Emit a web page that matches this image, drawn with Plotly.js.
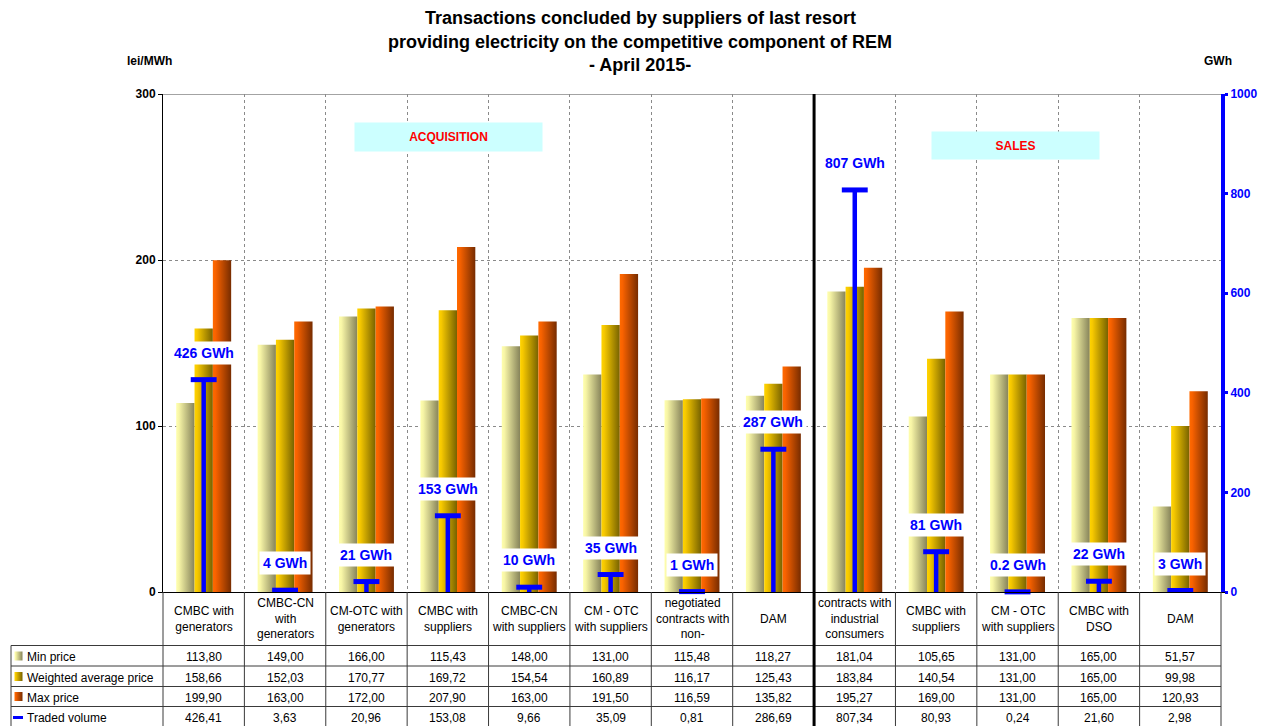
<!DOCTYPE html>
<html>
<head>
<meta charset="utf-8">
<script src="https://cdn.plot.ly/plotly-3.0.1.min.js"></script>
<style>
  html, body { margin: 0; padding: 0; background: #fff; }
  #chart { width: 1264px; height: 726px; }
</style>
</head>
<body>
<div id="chart"></div>
<script>
// Markets (column labels of the data table, acquisition then sales)
const categories = [
  'CMBC with<br>generators',
  'CMBC-CN<br>with<br>generators',
  'CM-OTC with<br>generators',
  'CMBC with<br>suppliers',
  'CMBC-CN<br>with suppliers',
  'CM - OTC<br>with suppliers',
  'negotiated<br>contracts with<br>non-',
  'DAM',
  'contracts with<br>industrial<br>consumers',
  'CMBC with<br>suppliers',
  'CM - OTC<br>with suppliers',
  'CMBC with<br>DSO',
  'DAM'
];

// Prices, lei/MWh
const minPrice = [113.80, 149.00, 166.00, 115.43, 148.00, 131.00, 115.48, 118.27, 181.04, 105.65, 131.00, 165.00, 51.57];
const avgPrice = [158.66, 152.03, 170.77, 169.72, 154.54, 160.89, 116.17, 125.43, 183.84, 140.54, 131.00, 165.00, 99.98];
const maxPrice = [199.90, 163.00, 172.00, 207.90, 163.00, 191.50, 116.59, 135.82, 195.27, 169.00, 131.00, 165.00, 120.93];

// Traded volume, GWh
const volume = [426.41, 3.63, 20.96, 153.08, 9.66, 35.09, 0.81, 286.69, 807.34, 80.93, 0.24, 21.60, 2.98];

const seriesNames = ['Min price', 'Weighted average price', 'Max price', 'Traded volume'];
const titleLines = [
  'Transactions concluded by suppliers of last resort',
  'providing electricity on the competitive component of REM',
  '- April 2015-'
];
const leftTicks = [0, 100, 200, 300];
const rightTicks = [0, 200, 400, 600, 800, 1000];

// ---- page geometry (pixels) ----
const W = 1264, H = 726;
const L = 163, R = 1221, T = 94, B = 592;
const PW = R - L, PH = B - T;
const px = v => (v - L) / PW;          // pixel x -> paper x
const py = v => (B - v) / PH;          // pixel y -> paper y
const FONT = 'Liberation Sans, Arial, Helvetica, sans-serif';
const BLUE = '#0000FF';

const pos = categories.map((_, i) => i);
const fmt = v => v.toFixed(2).replace('.', ',');
const volText = v => (Math.round(v) >= 1 ? String(Math.round(v)) : v.toFixed(1)) + ' GWh';

// gradient fills applied to bars and legend keys after drawing
const gradients = [
  { id: 'gradMin', stops: [[0, '#FFFFAE'], [0.15, '#F7F5A6'], [1, '#86835A']], flat: '#D2CF86' },
  { id: 'gradAvg', stops: [[0, '#FFD400'], [0.15, '#F6C800'], [1, '#776200']], flat: '#C8A000' },
  { id: 'gradMax', stops: [[0, '#FF6A00'], [0.15, '#F86200'], [1, '#772C00']], flat: '#C04A00' }
];

const barTrace = (k, y) => ({
  type: 'bar', name: seriesNames[k], x: pos, y: y,
  marker: { color: gradients[k].flat, line: { width: 0 } },
  hoverinfo: 'skip'
});

const traces = [
  barTrace(0, minPrice),
  barTrace(1, avgPrice),
  barTrace(2, maxPrice),
  {
    type: 'scatter', mode: 'markers', name: seriesNames[3],
    x: pos, y: volume, yaxis: 'y2', cliponaxis: false,
    marker: { symbol: 'line-ew', size: 18.5, color: BLUE, line: { width: 5, color: BLUE } },
    error_y: {
      type: 'data', symmetric: false,
      array: volume.map(() => 0), arrayminus: volume,
      thickness: 4.5, width: 0, color: BLUE
    },
    hoverinfo: 'skip'
  }
];

// ---- shapes ----
const shapes = [];
const lineCol = '#3a3a3a';
const hLine = (y, x0, x1, color, width) => shapes.push({
  type: 'line', xref: 'paper', yref: 'paper',
  x0: px(x0), x1: px(x1), y0: py(y), y1: py(y),
  line: { color: color || lineCol, width: width || 1 }, layer: 'above'
});
const vLine = (x, y0, y1, color, width) => shapes.push({
  type: 'line', xref: 'paper', yref: 'paper',
  x0: px(x), x1: px(x), y0: py(y0), y1: py(y1),
  line: { color: color || lineCol, width: width || 1 }, layer: 'above'
});

// frame line along the 300 level
shapes.push({
  type: 'line', xref: 'paper', yref: 'y', x0: 0, x1: 1, y0: 300, y1: 300,
  line: { color: '#858585', width: 1.5 }, layer: 'below'
});

// data table grid
const rowLines = [645.5, 666, 686.5, 706.5];
rowLines.forEach(y => hLine(y, 11, R));
for (let i = 0; i <= categories.length; i++) {
  vLine(L + i * PW / categories.length, B, H);
}
vLine(11, 645.5, H);

// acquisition / sales divider
shapes.push({
  type: 'line', xref: 'x', yref: 'paper', x0: 7.5, x1: 7.5, y0: py(H), y1: 1,
  line: { color: '#000', width: 3 }, layer: 'above'
});

// legend keys inside the table
const rowCenters = [656, 676.5, 696.5, 716.5];
const keyIdx = [];
for (let k = 0; k < 3; k++) {
  keyIdx.push(shapes.length);
  shapes.push({
    type: 'rect', xref: 'paper', yref: 'paper',
    x0: px(14.5), x1: px(22.5), y0: py(rowCenters[k] + 4.5), y1: py(rowCenters[k] - 4.5),
    fillcolor: gradients[k].flat, line: { width: 0 }, layer: 'above'
  });
}
hLine(rowCenters[3] + 1, 13, 23, BLUE, 3);

// ---- annotations ----
const annotations = [];
const txt = (o) => annotations.push(Object.assign({ showarrow: false, xanchor: 'center', yanchor: 'middle' }, o));

// title
titleLines.forEach((t, k) => txt({
  xref: 'paper', yref: 'paper', x: px(640), y: py(18 + k * 23.5), text: t,
  font: { family: FONT, size: 18, color: '#000', weight: 'bold' }
}));

// axis unit labels
txt({ xref: 'paper', yref: 'paper', x: px(149.5), y: py(61), text: 'lei/MWh',
      font: { family: FONT, size: 12, color: '#000', weight: 'bold' } });
txt({ xref: 'paper', yref: 'paper', x: px(1217.5), y: py(61), text: 'GWh',
      font: { family: FONT, size: 12, color: '#000', weight: 'bold' } });

// section labels
txt({ xref: 'paper', yref: 'paper', x: px(448.5), y: py(137), text: 'ACQUISITION',
      width: 187, height: 28, borderpad: 0, bgcolor: '#CCFFFF',
      font: { family: FONT, size: 12, color: '#FF0000', weight: 'bold' } });
txt({ xref: 'paper', yref: 'paper', x: px(1015.5), y: py(145), text: 'SALES',
      width: 167, height: 27, borderpad: 0, bgcolor: '#CCFFFF',
      font: { family: FONT, size: 12, color: '#FF0000', weight: 'bold' } });

// traded volume labels
volume.forEach((v, i) => txt({
  xref: 'x', yref: 'y2', x: pos[i], y: v, yshift: 27,
  text: volText(v), bgcolor: '#FFFFFF', borderpad: 3,
  font: { family: FONT, size: 14, color: BLUE, weight: 'bold' }
}));

// table: column headers
categories.forEach((c, i) => txt({
  xref: 'x', yref: 'paper', x: pos[i], y: py(618.5), text: c,
  font: { family: FONT, size: 12, color: '#000' }
}));

// table: row headers and values
const rows = [minPrice, avgPrice, maxPrice, volume];
rows.forEach((vals, r) => {
  txt({ xref: 'paper', yref: 'paper', x: px(25), xanchor: 'left', y: py(rowCenters[r] + 1),
        text: seriesNames[r], font: { family: FONT, size: 12, color: '#000' } });
  vals.forEach((v, i) => txt({
    xref: 'x', yref: 'paper', x: pos[i], y: py(rowCenters[r] + 1), text: fmt(v),
    font: { family: FONT, size: 12, color: '#000' }
  }));
});

const layout = {
  width: W, height: H,
  margin: { l: L, r: W - R, t: T, b: H - B, pad: 0 },
  paper_bgcolor: '#FFFFFF', plot_bgcolor: '#FFFFFF',
  showlegend: false,
  hovermode: false,
  barmode: 'group', bargap: 0.325, bargroupgap: 0,
  font: { family: FONT, color: '#000' },
  xaxis: {
    range: [-0.5, categories.length - 0.5],
    tickvals: categories.map((_, i) => i - 0.5).concat([categories.length - 0.5]),
    showticklabels: false, ticks: '',
    showgrid: true, gridcolor: '#8a8a8a', griddash: 'dot', gridwidth: 1,
    showline: true, linecolor: '#000', linewidth: 1, zeroline: false
  },
  yaxis: {
    range: [0, 300], tickvals: leftTicks,
    showgrid: true, gridcolor: '#8a8a8a', griddash: 'dot', gridwidth: 1,
    showline: true, linecolor: '#000', linewidth: 1, zeroline: false,
    ticks: 'outside', ticklen: 4, tickcolor: '#000', tickwidth: 1,
    tickfont: { family: FONT, size: 12, color: '#000', weight: 'bold' }
  },
  yaxis2: {
    overlaying: 'y', side: 'right',
    range: [0, 1000], tickvals: rightTicks,
    showgrid: false, zeroline: false,
    showline: true, linecolor: BLUE, linewidth: 4,
    ticks: 'outside', ticklen: 3, tickwidth: 3, tickcolor: BLUE,
    tickfont: { family: FONT, size: 12, color: BLUE, weight: 'bold' }
  },
  shapes: shapes,
  annotations: annotations
};

Plotly.newPlot('chart', traces, layout, { displayModeBar: false, staticPlot: true }).then(gd => {
  const NS = 'http://www.w3.org/2000/svg';
  const svg = gd.querySelector('.main-svg');
  let defs = svg.querySelector('defs');
  if (!defs) { defs = document.createElementNS(NS, 'defs'); svg.insertBefore(defs, svg.firstChild); }
  gradients.forEach(g => {
    const lg = document.createElementNS(NS, 'linearGradient');
    lg.setAttribute('id', g.id);
    lg.setAttribute('x1', '0'); lg.setAttribute('y1', '0');
    lg.setAttribute('x2', '1'); lg.setAttribute('y2', '0');
    g.stops.forEach(([o, c]) => {
      const s = document.createElementNS(NS, 'stop');
      s.setAttribute('offset', o);
      s.setAttribute('stop-color', c);
      lg.appendChild(s);
    });
    defs.appendChild(lg);
  });
  gd.querySelectorAll('.barlayer .trace.bars').forEach((tr, k) => {
    if (!gradients[k]) return;
    tr.querySelectorAll('path').forEach(p => { p.style.fill = 'url(#' + gradients[k].id + ')'; });
  });
  keyIdx.forEach((idx, k) => {
    gd.querySelectorAll('.shapelayer path[data-index="' + idx + '"]').forEach(p => {
      p.style.fill = 'url(#' + gradients[k].id + ')';
    });
  });
});
</script>
</body>
</html>
